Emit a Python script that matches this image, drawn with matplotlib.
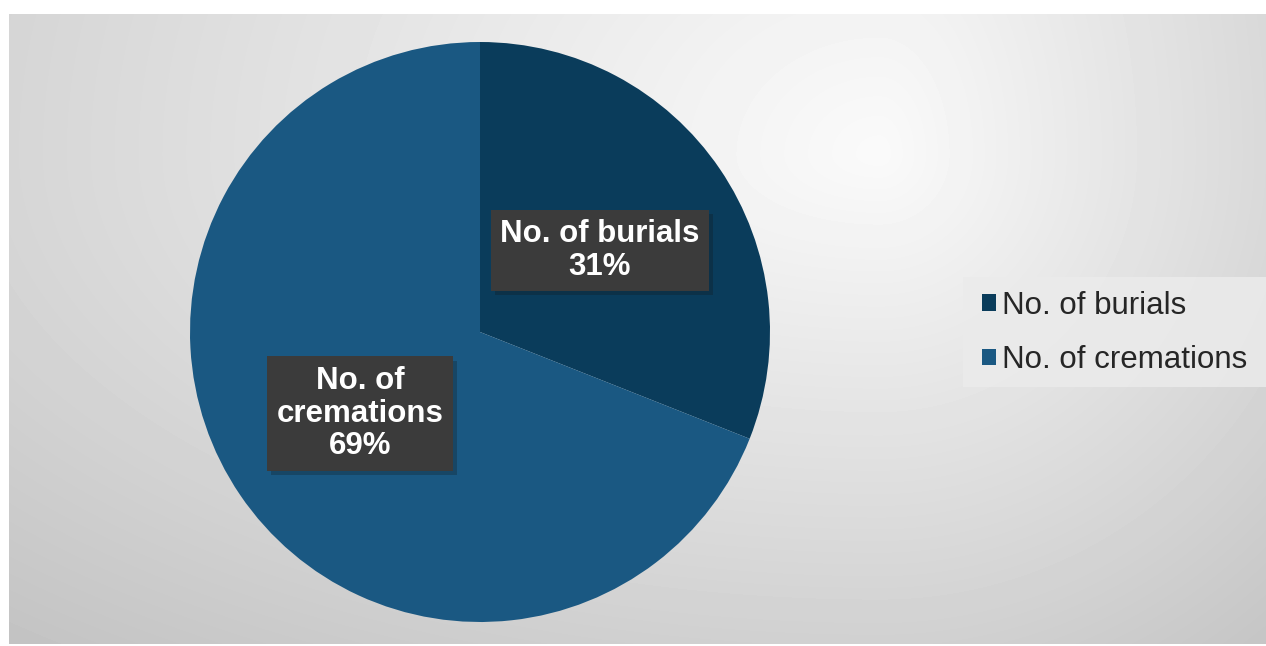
import matplotlib.pyplot as plt
import matplotlib.patheffects as pe
import numpy as np
from matplotlib.patches import Rectangle

labels = ['No. of burials', 'No. of cremations']
shares = [31, 69]
box_labels = ['No. of burials\n31%', 'No. of\ncremations\n69%']
colors = ['#0a3c5b', '#1a5882']

plt.rcParams['font.family'] = ['Liberation Sans', 'DejaVu Sans']

W, H = 1266, 646
fig = plt.figure(figsize=(W / 100, H / 100), dpi=100)

# background: grey gradient, brightest right of the pie near the top
bg = fig.add_axes([9 / W, 2 / H, 1257 / W, 630 / H])
xx, yy = np.meshgrid(np.arange(1257), np.arange(630))
cx, cy = 870, 140
dx = np.where(xx < cx, (xx - cx) * 0.49, xx - cx)
dy = np.where(yy < cy, (yy - cy) * 0.6, yy - cy)
d = np.hypot(dx, dy)
shade = np.clip(250 - 0.085 * d, 194, 250) / 255
bg.imshow(shade, cmap='gray', vmin=0, vmax=1, aspect='auto',
          interpolation='bilinear')
bg.set_axis_off()

# legend background panel
fig.patches.append(Rectangle((963 / W, (H - 387) / H), (W - 963) / W, 110 / H,
                             transform=fig.transFigure, facecolor='#ebebeb',
                             edgecolor='none', alpha=0.85, zorder=0.5))

# pie
r_px = 290
ax = fig.add_axes([(480 - r_px) / W, (314 - r_px) / H, 2 * r_px / W, 2 * r_px / H])
wedges, _ = ax.pie(shares, colors=colors, startangle=90, counterclock=False,
                   wedgeprops=dict(linewidth=0))
ax.set_xlim(-1, 1)
ax.set_ylim(-1, 1)
ax.set_aspect('equal')

for w, txt in zip(wedges, box_labels):
    ang = np.deg2rad((w.theta1 + w.theta2) / 2)
    t = ax.text(0.5 * np.cos(ang), 0.5 * np.sin(ang), txt, color='white',
                ha='center', va='center', fontsize=22.5, fontweight='bold',
                linespacing=1.12,
                bbox=dict(boxstyle='square,pad=0.3', facecolor='#3b3b3b',
                          edgecolor='none'))
    t.get_bbox_patch().set_path_effects(
        [pe.SimplePatchShadow(offset=(3, -3), alpha=0.25), pe.Normal()])

leg = fig.legend(wedges, labels, loc='center left',
                 bbox_to_anchor=(982 / W, (H - 333) / H), frameon=False,
                 fontsize=22.5, handlelength=0.45, handleheight=0.45,
                 handletextpad=0.2, labelspacing=0.78, borderpad=0,
                 borderaxespad=0)
for t in leg.get_texts():
    t.set_color('#262626')

fig.savefig('out.png', dpi=100, facecolor='white')
